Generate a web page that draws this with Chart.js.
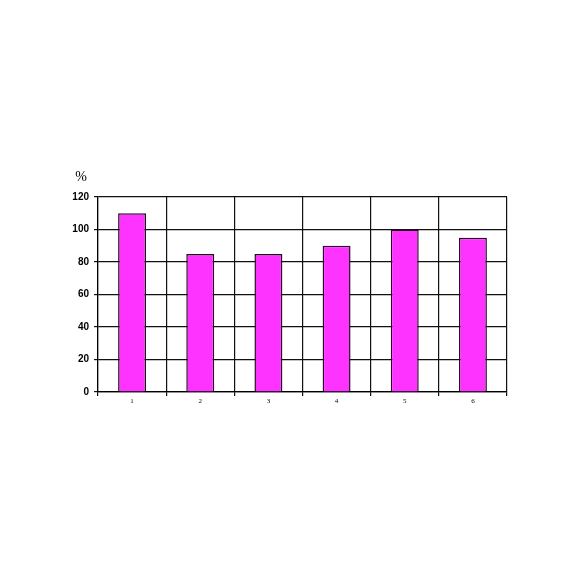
<!DOCTYPE html>
<html><head><meta charset="utf-8">
<script src="https://cdn.jsdelivr.net/npm/chart.js@4"></script>
<style>html,body{margin:0;padding:0;background:#fff}#wrap{width:576px;height:576px}</style>
</head><body><div id="wrap"><canvas id="c" width="576" height="576"></canvas></div>
<script>
const categories = ['1','2','3','4','5','6'];
const values = [110, 85, 85, 90, 100, 95];
const yTicks = [0, 20, 40, 60, 80, 100, 120];
const unitLabel = '%';

const unitPlugin = {
  id: 'unit',
  afterDraw(chart) {
    const ctx = chart.ctx;
    ctx.save();
    ctx.fillStyle = '#000';
    ctx.font = '14px "Liberation Serif", serif';
    ctx.textAlign = 'center';
    ctx.textBaseline = 'middle';
    ctx.fillText(unitLabel, 81, 177);
    ctx.restore();
  }
};

new Chart(document.getElementById('c'), {
  type: 'bar',
  data: {
    labels: categories,
    datasets: [{
      data: values,
      backgroundColor: '#ff33ff',
      borderColor: '#2a0a2a',
      borderWidth: 1.5,
      borderSkipped: 'bottom',
      categoryPercentage: 0.41,
      barPercentage: 1.0
    }]
  },
  options: {
    responsive: false,
    animation: false,
    layout: { padding: { left: 56, right: 69, top: 197, bottom: 164 } },
    plugins: { legend: { display: false }, tooltip: { enabled: false } },
    scales: {
      x: {
        grid: { color: '#111', lineWidth: 1.2, offset: true, tickLength: 4, drawTicks: true },
        border: { color: '#000', width: 1.2 },
        ticks: { color: '#000', font: { family: '"Liberation Serif", serif', size: 7 }, padding: 1 },
        afterFit(s) { s.height = 20; }
      },
      y: {
        min: 0, max: 120,
        afterBuildTicks(s) { s.ticks = yTicks.map(v => ({ value: v })); },
        grid: { color: '#111', lineWidth: 1.2, tickLength: 4 },
        border: { color: '#000', width: 1.2 },
        ticks: { color: '#000', font: { family: '"Liberation Sans", Arial, sans-serif', size: 10, weight: 'bold' }, padding: 5 },
        afterFit(s) { s.width = 42; }
      }
    }
  },
  plugins: [unitPlugin]
});
</script></body></html>
